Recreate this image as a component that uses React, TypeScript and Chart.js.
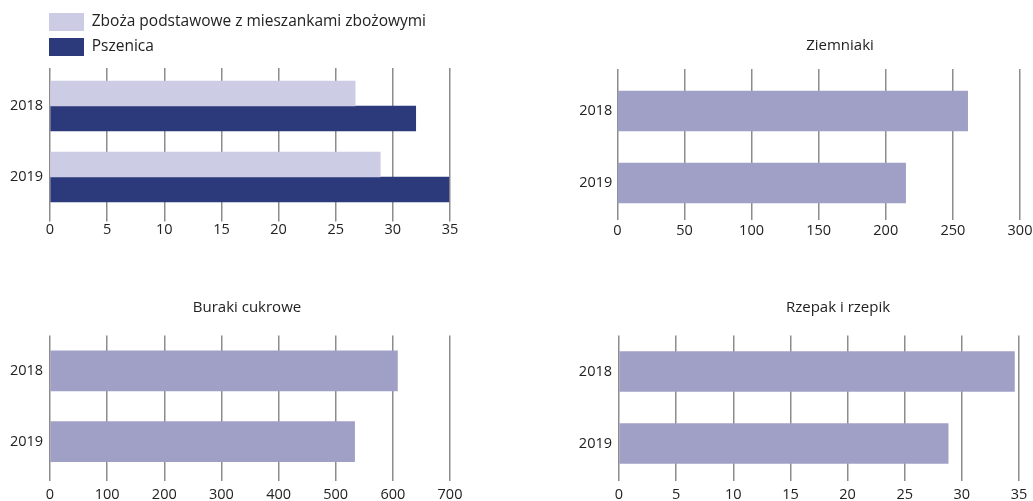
import React, { useEffect, useRef } from "react";
import { Chart, registerables } from "chart.js";

Chart.register(...registerables);

// ---- data ----
const years = ["2018", "2019"];
const zbozaLabel = "Zboża podstawowe z mieszankami zbożowymi";
const pszenicaLabel = "Pszenica";
const zbozaValues = [26.7, 28.9];
const pszenicaValues = [32.0, 34.9];
const ziemniakiTitle = "Ziemniaki";
const ziemniakiValues = [261.0, 214.8];
const burakiTitle = "Buraki cukrowe";
const burakiValues = [608, 533];
const rzepakTitle = "Rzepak i rzepik";
const rzepakValues = [34.6, 28.8];
// axis ranges [max, step]
const cerealAxis = [35, 5];
const ziemniakiAxis = [300, 50];
const burakiAxis = [700, 100];
const rzepakAxis = [35, 5];

// ---- styles ----
const FONT = "'Open Sans', 'DejaVu Sans', sans-serif";
const TEXT = "#222222";
const GRID = "#8c8c8c";
const LIGHT = "#cccce4";
const DARK = "#2c3a7b";
const MID = "#a09fc6";
const TICK_SIZE = 14.5;

function xAxis(axis: number[], tl: number, pad: number, h: number) {
  return {
    type: "linear",
    position: "bottom",
    min: 0,
    max: axis[0],
    ticks: { stepSize: axis[1], padding: pad, color: TEXT, font: { family: FONT, size: TICK_SIZE } },
    grid: { color: GRID, lineWidth: 1.5, drawTicks: true, tickLength: tl },
    border: { display: false },
    afterFit: (s: any) => {
      s.height = h;
      s.paddingLeft = 0;
      s.paddingRight = 0;
    },
  };
}

function topAxis(axis: number[], tl: number, h: number) {
  return {
    type: "linear",
    position: "top",
    min: 0,
    max: axis[0],
    ticks: { stepSize: axis[1], display: false },
    grid: { color: GRID, lineWidth: 1.5, drawOnChartArea: false, drawTicks: true, tickLength: tl },
    border: { display: false },
    afterFit: (s: any) => {
      s.height = h;
      s.paddingLeft = 0;
      s.paddingRight = 0;
    },
  };
}

// normal left axis (labels right-aligned inside the axis box)
function yAxis(w: number, pad: number) {
  return {
    type: "category",
    position: "left",
    ticks: { padding: pad, color: TEXT, font: { family: FONT, size: TICK_SIZE } },
    grid: { display: false, drawTicks: false },
    border: { display: false },
    afterFit: (s: any) => {
      s.width = w;
    },
  };
}

// narrow left axis whose labels are placed to its left (left edge = right + pad)
function yAxisMirror(w: number, pad: number) {
  return {
    type: "category",
    position: "left",
    ticks: { mirror: true, crossAlign: "near", padding: pad, color: TEXT, font: { family: FONT, size: TICK_SIZE } },
    grid: { display: false, drawTicks: false },
    border: { display: false },
    afterFit: (s: any) => {
      s.width = w;
    },
  };
}

function spacerRight(w: number) {
  return {
    type: "category",
    position: "right",
    display: true,
    ticks: { display: false },
    grid: { display: false, drawTicks: false },
    border: { display: false },
    afterFit: (s: any) => {
      s.width = w;
    },
  };
}

function titleOpts(text: string, top: number, bottom: number) {
  return {
    display: true,
    text,
    color: TEXT,
    font: { family: FONT, size: 15, weight: "normal" as const },
    padding: { top, bottom },
  };
}

function config1(): any {
  return {
    type: "bar",
    data: {
      labels: years,
      datasets: [
        { label: zbozaLabel, data: zbozaValues, backgroundColor: LIGHT, barThickness: 25 },
        { label: pszenicaLabel, data: pszenicaValues, backgroundColor: DARK, barThickness: 25 },
      ],
    },
    options: {
      indexAxis: "y",
      animation: false,
      responsive: false,
      layout: { padding: { left: 42, top: 6, right: 20, bottom: 0 } },
      scales: {
        x: xAxis(cerealAxis, 9, 0, 37.5),
        x2: topAxis(cerealAxis, 2.5, 4.5),
        y: yAxisMirror(8, -40),
      },
      plugins: {
        legend: {
          display: true,
          position: "top",
          align: "start",
          labels: {
            boxWidth: 35,
            boxHeight: 18,
            padding: 7,
            color: TEXT,
            font: { family: FONT, size: 15.5 },
          },
        },
        title: { display: false },
        tooltip: { enabled: false },
      },
    },
  };
}

function singleConfig(opts: {
  title: string;
  values: number[];
  axis: number[];
  padL: number;
  padR: number;
  yAxis: any;
  rightW: number;
  titleTop: number;
  titleBottom: number;
  topTl: number;
  tl: number;
  tickPad: number;
  xH: number;
}): any {
  const scales: any = {
    x: xAxis(opts.axis, opts.tl, opts.tickPad, opts.xH),
    y: opts.yAxis,
  };
  if (opts.topTl > 0) scales.x2 = topAxis(opts.axis, opts.topTl, opts.topTl);
  if (opts.rightW > 0) scales.yR = spacerRight(opts.rightW);
  return {
    type: "bar",
    data: {
      labels: years,
      datasets: [{ label: opts.title, data: opts.values, backgroundColor: MID, barThickness: 40 }],
    },
    options: {
      indexAxis: "y",
      animation: false,
      responsive: false,
      layout: { padding: { left: opts.padL, top: 0, right: opts.padR, bottom: 0 } },
      scales,
      plugins: {
        legend: { display: false },
        title: titleOpts(opts.title, opts.titleTop, opts.titleBottom),
        tooltip: { enabled: false },
      },
    },
  };
}

function Panel(props: { left: number; top: number; width: number; height: number; make: () => any }) {
  const ref = useRef<HTMLCanvasElement | null>(null);
  useEffect(() => {
    if (!ref.current) return;
    const chart = new Chart(ref.current, props.make());
    return () => chart.destroy();
  }, []);
  return (
    <div style={{ position: "absolute", left: props.left, top: props.top, width: props.width, height: props.height }}>
      <canvas ref={ref} width={props.width} height={props.height} style={{ display: "block" }} />
    </div>
  );
}

export default function App() {
  return (
    <div
      style={{
        position: "fixed",
        left: 0,
        top: 0,
        width: 1033,
        height: 501,
        overflow: "hidden",
        background: "#ffffff",
      }}
    >
      <Panel left={0} top={0} width={470} height={250} make={config1} />
      <Panel
        left={560}
        top={0}
        width={560}
        height={250}
        make={() =>
          singleConfig({
            title: ziemniakiTitle,
            values: ziemniakiValues,
            axis: ziemniakiAxis,
            padL: 0,
            padR: 0,
            yAxis: yAxis(57.3, 5),
            rightW: 100,
            titleTop: 37,
            titleBottom: 14,
            topTl: 6,
            tl: 1,
            tickPad: 2,
            xH: 31,
          })
        }
      />
      <Panel
        left={0}
        top={250}
        width={470}
        height={251}
        make={() =>
          singleConfig({
            title: burakiTitle,
            values: burakiValues,
            axis: burakiAxis,
            padL: 44,
            padR: 20,
            yAxis: yAxisMirror(6, -40),
            rightW: 0,
            titleTop: 49,
            titleBottom: 18.5,
            topTl: 0,
            tl: 4,
            tickPad: 5,
            xH: 24,
          })
        }
      />
      <Panel
        left={560}
        top={250}
        width={560}
        height={251}
        make={() =>
          singleConfig({
            title: rzepakTitle,
            values: rzepakValues,
            axis: rzepakAxis,
            padL: 0,
            padR: 4,
            yAxis: yAxis(59, 7),
            rightW: 97,
            titleTop: 49,
            titleBottom: 18.5,
            topTl: 0,
            tl: 1.5,
            tickPad: 5,
            xH: 21.5,
          })
        }
      />
    </div>
  );
}
